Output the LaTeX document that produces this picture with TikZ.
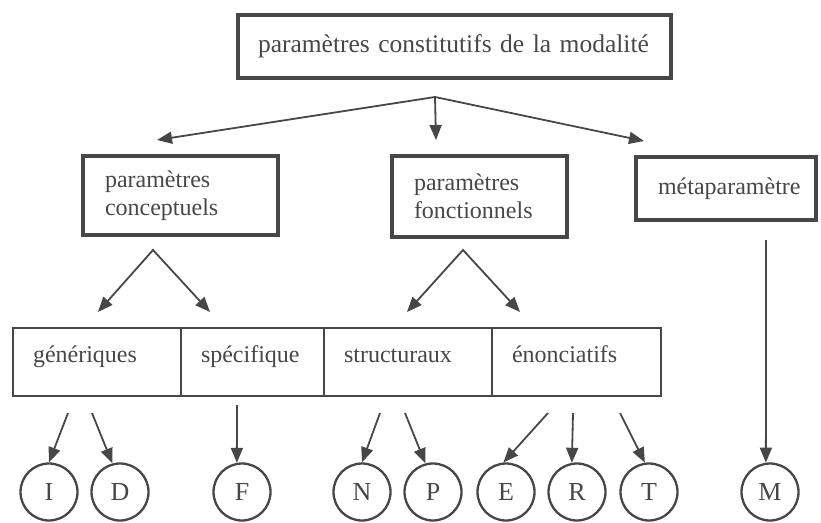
\documentclass[tikz,border=0pt]{standalone}
\usepackage{fontspec}
\setmainfont{Liberation Serif}
\usetikzlibrary{arrows.meta}
\definecolor{ink}{HTML}{474747}
\begin{document}
\begin{tikzpicture}[x=1pt,y=-1pt,
  every node/.style={text=ink, font=\fontsize{24}{28}\selectfont},
  bigbox/.style={draw=ink, line width=3.5pt, rectangle, inner xsep=22pt, align=left},
  cell/.style={draw=ink, line width=2pt, rectangle, minimum height=68pt, inner xsep=20pt, align=left, text height=10pt, text depth=10pt},
  leaf/.style={draw=ink, line width=2.3pt, circle, minimum size=57pt, inner sep=0pt, font=\fontsize{26}{28}\selectfont},
  arr/.style={draw=ink, line width=1.8pt, -{Triangle[length=15pt,width=12pt]}},
  arrtwo/.style={draw=ink, line width=1.8pt, line join=miter, {Triangle[length=15pt,width=12pt]}-{Triangle[length=15pt,width=12pt]}}
]
\useasboundingbox (0,0) rectangle (821,522);
% top
\node[bigbox, inner xsep=20pt, minimum height=63pt, text width=393pt, font=\fontsize{25.5}{30}\selectfont] (title) at (454.5,46.5) {\mbox{paramètres constitutifs de la modalité}};
% second level
\node[bigbox, minimum height=79pt, text width=151pt] (conc) at (180.5,195.5) {paramètres\\conceptuels};
\node[bigbox, minimum height=81pt, text width=131pt] (fonc) at (479.5,196.5) {paramètres\\fonctionnels};
\node[bigbox, minimum height=63pt, text width=136pt] (meta) at (726,188.5) {métaparamètre};
% bottom row
\node[cell, text width=128pt] (gen) at (97,362) {génériques};
\node[cell, text width=103pt] (spec) at (252.5,362) {spécifique};
\node[cell, text width=128pt] (struc) at (408,362) {structuraux};
\node[cell, text width=129pt] (enon) at (576.5,362) {énonciatifs};
% leaves
\node[leaf] (I) at (49,492) {I};
\node[leaf] (D) at (120,492) {D};
\node[leaf] (F) at (242,492) {F};
\node[leaf] (N) at (362,492) {N};
\node[leaf] (P) at (433,492) {P};
\node[leaf] (E) at (506,492) {E};
\node[leaf] (R) at (577,492) {R};
\node[leaf] (T) at (649,492) {T};
\node[leaf] (M) at (770,492) {M};
% coordinates
\coordinate (split) at (435,97);
\coordinate (tc) at (157,140);
\coordinate (tf) at (436,140);
\coordinate (tm) at (644,141);
\coordinate (apexA) at (153,250);
\coordinate (tAa) at (98,312);
\coordinate (tAb) at (210,312);
\coordinate (apexB) at (463,250);
\coordinate (tBa) at (407,312);
\coordinate (tBb) at (520,312);
\coordinate (sI) at (68,413);
\coordinate (sD) at (92,413);
\coordinate (sF) at (237,405);
\coordinate (sN) at (380,413);
\coordinate (sP) at (405,413);
\coordinate (sE) at (548,413);
\coordinate (sR) at (573,413);
\coordinate (sT) at (620,413);
\coordinate (sM) at (766,240);
% connectors
\draw[arrtwo] (tc) -- (split) -- (tm);
\draw[arr] (split) -- (tf);
\draw[arrtwo] (tAa) -- (apexA) -- (tAb);
\draw[arrtwo] (tBa) -- (apexB) -- (tBb);
\draw[arr] (sI) -- (I.north);
\draw[arr] (sD) -- (D.105);
\draw[arr] (sF) -- (F.100);
\draw[arr] (sN) -- (N.north);
\draw[arr] (sP) -- (P.105);
\draw[arr] (sE) -- (E.95);
\draw[arr] (sR) -- (R.100);
\draw[arr] (sT) -- (T.98);
\draw[arr] (sM) -- (M.98);
\end{tikzpicture}
\end{document}
